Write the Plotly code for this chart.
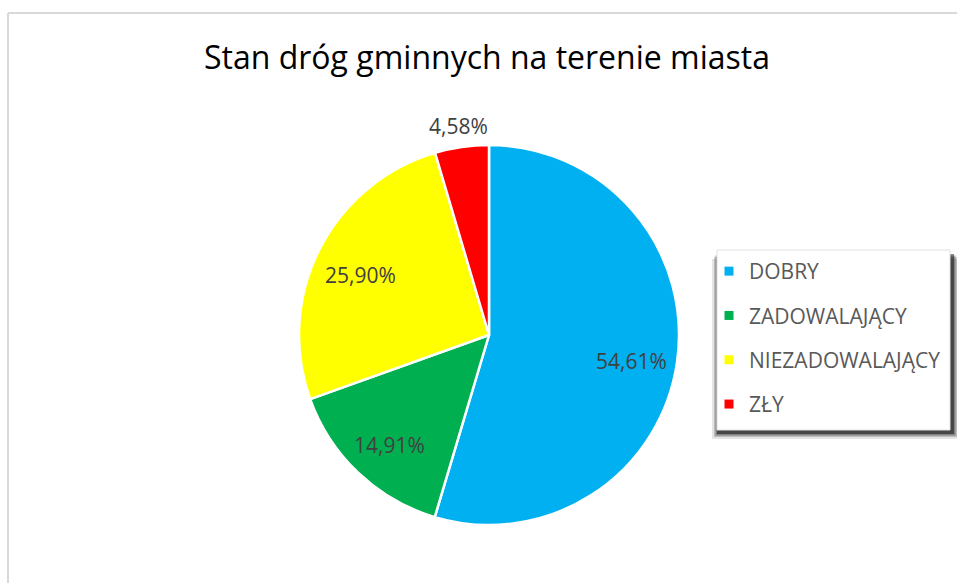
import math
import plotly.graph_objects as go

categories = ["DOBRY", "ZADOWALAJĄCY", "NIEZADOWALAJĄCY", "ZŁY"]
values = [54.61, 14.91, 25.90, 4.58]
colors = ["#00B0F0", "#00B050", "#FFFF00", "#FF0000"]
label_inside = [True, True, True, False]
title_text = "Stan dróg gminnych na terenie miasta"

W, H = 957, 583
FONT = "Open Sans"

def px(x):
    return x / W

def py(y):
    return 1 - y / H

# pie geometry (pixels)
CX, CY, R = 489, 335, 190

labels_txt = [f"{v:.2f}".replace(".", ",") + "%" for v in values]

fig = go.Figure()
fig.add_trace(go.Pie(
    labels=categories,
    values=values,
    textinfo="none",
    marker=dict(colors=colors, line=dict(color="white", width=2.5)),
    sort=False,
    direction="clockwise",
    rotation=0,
    showlegend=False,
    hoverinfo="label+percent",
    domain=dict(x=[px(CX - R), px(CX + R)], y=[py(CY + R), py(CY - R)]),
))

# data labels placed at each slice's mid-angle (computed from the values)
total = sum(values)
cum = 0.0
annotations = []
for v, t, inside in zip(values, labels_txt, label_inside):
    mid = (cum + v / 2) / total * 2 * math.pi
    cum += v
    r = R * (0.76 if inside else 1.11)
    x = CX + r * math.sin(mid)
    y = CY - r * math.cos(mid) + (5 if inside else 0)
    annotations.append(dict(x=px(x), y=py(y), xref="paper", yref="paper", text=t, showarrow=False,
                            xanchor="center", yanchor="middle",
                            font=dict(family=FONT, size=21, color="#404040")))

# legend entries
for cat, col in zip(categories, colors):
    fig.add_trace(go.Scatter(
        x=[None], y=[None], mode="markers", name=cat, legendgroup=cat,
        marker=dict(symbol="square", size=9, color=col),
        showlegend=True, hoverinfo="skip",
    ))

shapes = []
shapes.append(dict(type="line", xref="paper", yref="paper", x0=px(8), x1=1.0, y0=py(13), y1=py(13),
                   line=dict(color="#D9D9D9", width=2)))
shapes.append(dict(type="line", xref="paper", yref="paper", x0=px(8), x1=px(8), y0=py(13), y1=0,
                   line=dict(color="#D9D9D9", width=2)))
for op, d in [(0.10, 7), (0.18, 5), (0.30, 3.5), (0.45, 2)]:
    shapes.append(dict(type="rect", xref="paper", yref="paper",
                       x0=px(717 - d + 2), x1=px(950 + d + 2), y0=py(432 + d), y1=py(252 + d),
                       fillcolor=f"rgba(0,0,0,{op})", line=dict(width=0), layer="above"))
shapes.append(dict(type="rect", xref="paper", yref="paper", x0=px(717), x1=px(950), y0=py(430), y1=py(250),
                   fillcolor="white", line=dict(color="#E0E0E0", width=1), layer="above"))

fig.update_layout(
    width=W, height=H,
    margin=dict(l=0, r=0, t=0, b=0),
    paper_bgcolor="white",
    plot_bgcolor="white",
    title=dict(text=title_text, x=px(487), xanchor="center", y=py(58), yanchor="middle",
               font=dict(family=FONT, size=32, color="#000000")),
    xaxis=dict(visible=False),
    yaxis=dict(visible=False),
    shapes=shapes,
    annotations=annotations,
    legend=dict(x=px(709), y=py(251), xanchor="left", yanchor="top",
                bgcolor="rgba(0,0,0,0)", borderwidth=0,
                font=dict(family=FONT, size=21, color="#595959"),
                tracegroupgap=14, itemwidth=30),
)

fig.write_html("out.html", config={"displayModeBar": False},
               post_script="document.body.style.margin='0';document.body.style.overflow='hidden';")
